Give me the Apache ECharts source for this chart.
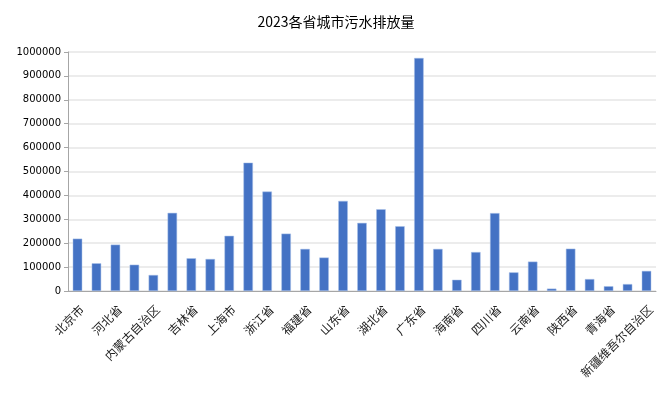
<!DOCTYPE html>
<html>
<head>
<meta charset="utf-8">
<script src="https://cdn.jsdelivr.net/npm/echarts@6/dist/echarts.min.js"></script>
<style>
  html, body { margin: 0; padding: 0; background: #fff; }
  #chart { width: 672px; height: 397px; }
</style>
</head>
<body>
<div id="chart"></div>
<script>
// 省份
const provinces = ['北京市', '天津市', '河北省', '山西省', '内蒙古自治区', '辽宁省', '吉林省', '黑龙江省',
  '上海市', '江苏省', '浙江省', '安徽省', '福建省', '江西省', '山东省', '河南省', '湖北省', '湖南省',
  '广东省', '广西壮族自治区', '海南省', '重庆市', '四川省', '贵州省', '云南省', '西藏自治区', '陕西省',
  '甘肃省', '青海省', '宁夏回族自治区', '新疆维吾尔自治区']
// 污水排放量
const sewage = [219000, 116000, 194000, 110000, 67000, 327000, 137000, 134000,
  231000, 537000, 416000, 240000, 176000, 140000, 377000, 285000, 342000, 271000,
  975000, 176000, 47000, 163000, 326000, 78000, 123000, 10000, 177000,
  50000, 20000, 29000, 84000]

const chart = echarts.init(document.getElementById('chart'))

const option = {
  animation: false,
  title: {
    text: '2023各省城市污水排放量',
    left: 'center',
    top: 10,
    textStyle: {
      fontFamily: 'Noto Sans CJK SC',
      fontSize: 14,
      fontWeight: 'normal',
      color: '#000'
    }
  },
  grid: {
    left: 68,
    right: 16,
    top: 52,
    bottom: 106
  },
  xAxis: {
    type: 'category',
    data: provinces,
    axisLine: { lineStyle: { color: '#a6a6a6', width: 1 } },
    axisTick: {
      alignWithLabel: true,
      interval: 1,
      length: 5,
      lineStyle: { color: '#a6a6a6' }
    },
    axisLabel: {
      interval: 1,
      rotate: 45,
      align: 'right',
      verticalAlign: 'top',
      margin: 12,
      fontFamily: 'Noto Sans CJK SC',
      fontSize: 12,
      color: '#222'
    }
  },
  yAxis: {
    type: 'value',
    min: 0,
    max: 1000000,
    interval: 100000,
    axisLine: { show: true, lineStyle: { color: '#a6a6a6' } },
    axisTick: { show: true, length: 4, lineStyle: { color: '#a6a6a6' } },
    axisLabel: {
      fontFamily: 'DejaVu Sans',
      fontSize: 10,
      color: '#000',
      margin: 7,
      formatter: v => String(v)
    },
    splitLine: {
      lineStyle: { color: '#e6e6e6', width: 1.5 }
    }
  },
  series: [
    {
      type: 'bar',
      data: sewage,
      barWidth: '50%',
      itemStyle: {
        color: '#4472c4',
        borderColor: '#a9c0e8',
        borderWidth: 0.5
      }
    }
  ]
}

chart.setOption(option)
</script>
</body>
</html>
